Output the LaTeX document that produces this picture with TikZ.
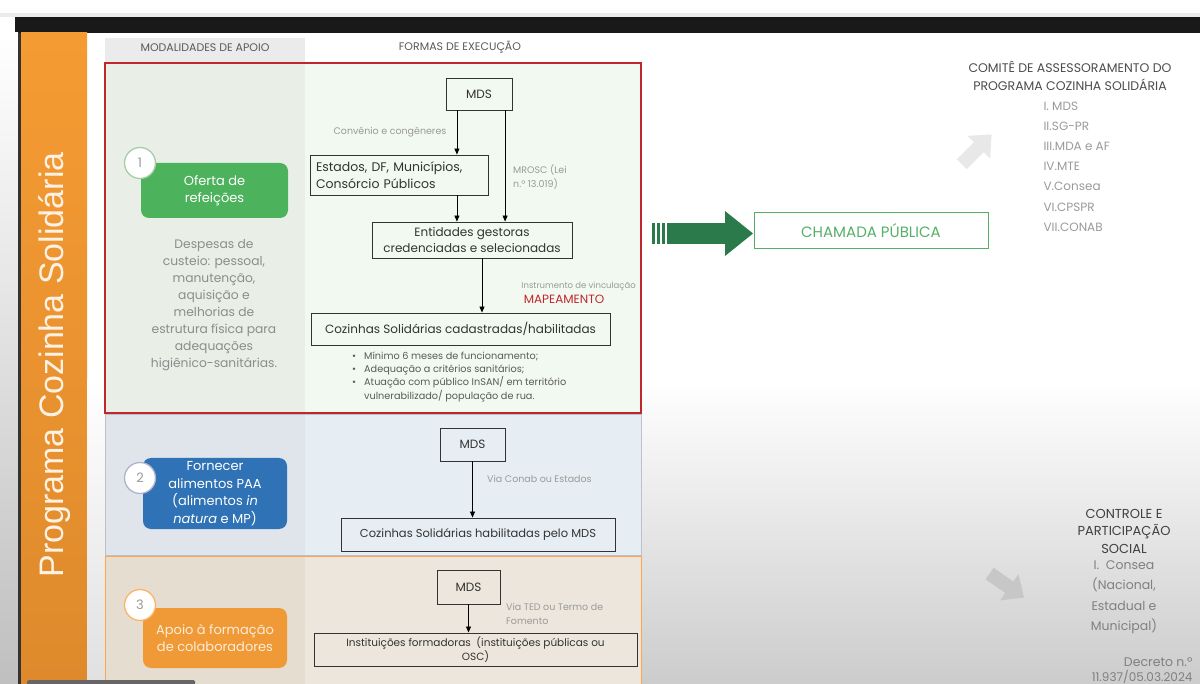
\documentclass[tikz,border=0pt]{standalone}
\usepackage{fontspec}
\setmainfont{Poppins}
\newfontfamily\arialf{Liberation Sans}
\usetikzlibrary{arrows.meta,calc}
\definecolor{orband}{HTML}{F59B33}
\definecolor{orbandb}{HTML}{DE8A2C}
\definecolor{redb}{HTML}{C0272D}
\definecolor{sa}{HTML}{E9EFE7}
\definecolor{sb}{HTML}{F2F9F0}
\definecolor{sc}{HTML}{DFE5EA}
\definecolor{sd}{HTML}{E7EEF3}
\definecolor{se}{HTML}{E6DDD1}
\definecolor{sf}{HTML}{EDE6DC}
\definecolor{gbox}{HTML}{4DB25C}
\definecolor{bbox}{HTML}{2F72B5}
\definecolor{obox}{HTML}{EF9A36}
\definecolor{txt}{HTML}{333333}
\definecolor{lbl}{HTML}{9A9A9A}
\definecolor{darkg}{HTML}{2B7A4B}
\definecolor{chg}{HTML}{55B067}
\newcommand{\fsz}[2]{\fontsize{#1}{#2}\selectfont}
\begin{document}
\begin{tikzpicture}[x=1pt,y=-1pt,
  flowbox/.style={draw=txt, line width=0.9pt, inner sep=2pt, align=center, text=txt, font=\fsz{12}{15}},
  arr/.style={draw=black, line width=0.8pt, -{Triangle[length=6pt,width=5pt]}},
  lab/.style={text=lbl, inner sep=0pt},
  modbox/.style={rounded corners=8pt, text=white, align=center, inner sep=2pt, font=\fsz{13}{17.5}},
  num/.style={circle, draw=#1, line width=1.3pt, fill=white, minimum size=31pt, inner sep=0pt, text=lbl, font=\fsz{13}{15}}]
\useasboundingbox (0,0) rectangle (1200,684);
% screen frame
\fill[white] (0,0) rectangle (1200,684);
\fill[black!8] (0,13) rectangle (1200,17);
\fill[black!90] (15,17) rectangle (1200,33);
\shade[top color=white, bottom color=black!25] (0,33) rectangle (18,684);
\fill[black!80] (18,33) rectangle (21,684);
\shade[top color=orband, bottom color=orbandb] (21,33) rectangle (87,684);
\node[rotate=90, text=white!90!orange, font=\arialf\fsz{34}{40}] (title) at (55,365) {Programa Cozinha Solidária};
% right background
\shade[top color=white, bottom color=black!20] (641,380) rectangle (1200,684);
\shade[top color=white, bottom color=black!12] (87,380) rectangle (105,684);
% headers
\fill[black!8] (105,38) rectangle (305,62);
\node[text=black!65, font=\fsz{11}{13}] (h1) at (205,48) {MODALIDADES DE APOIO};
\node[text=black!65, font=\fsz{11}{13}] (h2) at (460,47) {FORMAS DE EXECUÇÃO};
% section backgrounds
\fill[sa] (105,63) rectangle (305,413);
\fill[sb] (305,63) rectangle (641,413);
\draw[redb, line width=1.6pt] (105,63) rectangle (641,413);
\fill[sc] (105,414) rectangle (305,555);
\fill[sd] (305,414) rectangle (641,555);
\draw[blue!20!black!25, line width=0.8pt] (105,414) rectangle (641,555);
\fill[se] (105,556) rectangle (305,684);
\fill[sf] (305,556) rectangle (641,684);
\draw[orange!70, line width=1pt] (105,684) -- (105,556) -- (641,556) -- (641,684);
% section 1
\node[flowbox, minimum width=66pt, minimum height=32pt] (mds1) at (479,94) {MDS};
\node[flowbox, minimum width=178pt, minimum height=40pt, align=left, text width=166pt, font=\fsz{12.5}{17}] (est) at (399,175) {Estados, DF, Municípios,\\Consórcio Públicos};
\node[flowbox, minimum width=200pt, minimum height=36pt, font=\fsz{12}{16}] (ent) at (472,240) {Entidades gestoras\\credenciadas e selecionadas};
\node[flowbox, minimum width=299pt, minimum height=32pt, font=\fsz{12}{15}] (coz1) at (460.5,329) {Cozinhas Solidárias cadastradas/habilitadas};
\coordinate (a1) at ($(mds1.south west)!0.17!(mds1.south east)$);
\coordinate (a2) at ($(mds1.south west)!0.89!(mds1.south east)$);
\coordinate (a3) at ([xshift=10pt]ent.south);
\draw[arr] (a1) -- (a1 |- est.north);
\draw[arr] (a2) -- (a2 |- ent.north);
\draw[arr] (a1 |- est.south) -- (a1 |- ent.north);
\draw[arr] (a3) -- (a3 |- coz1.north);
\node[lab, font=\fsz{9.5}{12}] (l1) at (390,132) {Convênio e congêneres};
\node[lab, anchor=west, align=left, font=\fsz{9.5}{14}] (l2) at (513,177) {MROSC (Lei\\n.º 13.019)};
\node[lab, anchor=east, font=\fsz{8.5}{11}] (l3) at (636,286) {Instrumento de vinculação};
\node[text=redb, inner sep=0pt, font=\fsz{12}{14}] (l4) at (564,299) {MAPEAMENTO};
\node[anchor=north west, text=black!65, inner sep=0pt, font=\fsz{9.7}{13.2}] (bul) at (352,350) {\begin{tabular}{@{}l@{\hspace{8pt}}l@{}}\textbullet & Mínimo 6 meses de funcionamento;\\ \textbullet & Adequação a critérios sanitários;\\ \textbullet & Atuação com público InSAN/ em território\\ & vulnerabilizado/ população de rua.\end{tabular}};
\node[modbox, fill=gbox, minimum width=147pt, minimum height=55pt] (m1) at (214.5,190.5) {Oferta de\\refeições};
\node[num=green!45!black!35] (c1) at (140,163) {1};
\node[text=black!45, align=center, font=\fsz{12.3}{17}] (desc) at (214,305) {Despesas de\\custeio: pessoal,\\manutenção,\\aquisição e\\melhorias de\\estrutura física para\\adequações\\higiênico-sanitárias.};
% section 2
\node[flowbox, minimum width=65pt, minimum height=33pt] (mds2) at (472.5,444.5) {MDS};
\node[flowbox, minimum width=274pt, minimum height=33pt, font=\fsz{11.5}{14}] (coz2) at (478,534.5) {Cozinhas Solidárias habilitadas pelo MDS};
\draw[arr] (mds2.south) -- (mds2.south |- coz2.north);
\node[lab, anchor=west, font=\fsz{9.5}{12}] (l5) at (487,479) {Via Conab ou Estados};
\node[modbox, fill=bbox, minimum width=144pt, minimum height=71pt] (m2) at (215,493.5) {Fornecer\\alimentos PAA\\(alimentos \textit{in}\\\textit{natura} e MP)};
\node[num=blue!35!black!30] (c2) at (140,478) {2};
% section 3
\node[flowbox, minimum width=63pt, minimum height=34pt] (mds3) at (468.5,587) {MDS};
\node[flowbox, minimum width=323pt, minimum height=33pt, font=\fsz{10.5}{13.5}] (inst) at (475.5,649.5) {Instituições formadoras \ (instituições públicas ou\\OSC)};
\draw[arr] (mds3.south) -- (mds3.south |- inst.north);
\node[lab, anchor=north west, align=left, font=\fsz{9.5}{14}] (l6) at (506,603) {Via TED ou Termo de\\Fomento};
\node[modbox, fill=obox, text=white!85!orange, minimum width=144pt, minimum height=60pt] (m3) at (215,638) {Apoio à formação\\de colaboradores};
\node[num=orange!60] (c3) at (140,605) {3};
\fill[black!60, rounded corners=1.5pt] (27,680) rectangle (195,686);
% right side
\fill[darkg] (652,223) rectangle (655,244);
\fill[darkg] (657,223) rectangle (660,244);
\fill[darkg] (662,223) rectangle (665,244);
\fill[darkg] (667,223) rectangle (726,244);
\fill[darkg] (725,211) -- (753,233.5) -- (725,256) -- cycle;
\node[draw=chg, line width=1pt, text=chg, minimum width=234pt, minimum height=36pt, font=\fsz{15}{18}] (cham) at (871,231) {CHAMADA PÚBLICA};
\node[text=black!70, align=center, font=\fsz{12.5}{18}] (com) at (1070,76) {COMITÊ DE ASSESSORAMENTO DO\\PROGRAMA COZINHA SOLIDÁRIA};
\node[anchor=north west, text=lbl, align=left, font=\fsz{12}{20.2}] (list) at (1040,98) {I. MDS\\II.SG-PR\\III.MDA e AF\\IV.MTE\\V.Consea\\VI.CPSPR\\VII.CONAB};
\begin{scope}[shift={(976,150)}, rotate=45]
\fill[black!9] (-20,-7) -- (4,-7) -- (4,-16) -- (22,0) -- (4,16) -- (4,7) -- (-20,7) -- cycle;
\end{scope}
\begin{scope}[shift={(1006,585)}, rotate=-35]
\fill[black!22] (-20,-7) -- (4,-7) -- (4,-16) -- (22,0) -- (4,16) -- (4,7) -- (-20,7) -- cycle;
\end{scope}
\node[text=black!75, align=center, font=\fsz{13}{17.5}] (ctl) at (1124,531) {CONTROLE E\\PARTICIPAÇÃO\\SOCIAL};
\node[text=black!50, align=center, font=\fsz{12.5}{20.5}] (cons) at (1124,597) {I. \ Consea\\(Nacional,\\Estadual e\\Municipal)};
\node[anchor=east, text=black!50, font=\fsz{12.5}{15}] (dec) at (1196,662) {Decreto n.º};
\node[anchor=east, text=black!50, font=\fsz{12}{14}] (dec2) at (1196,677) {11.937/05.03.2024};
\end{tikzpicture}
\end{document}
